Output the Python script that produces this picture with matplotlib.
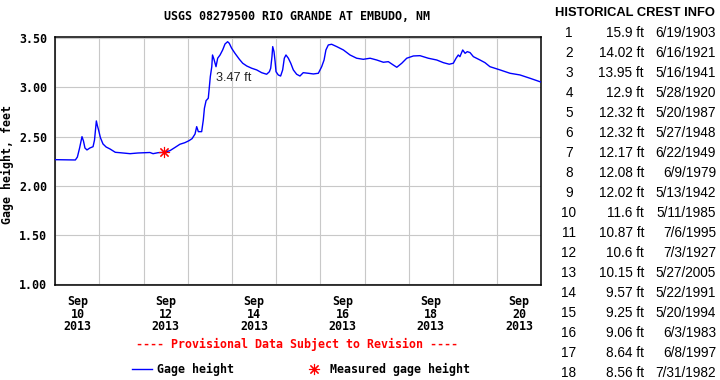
import numpy as np
import matplotlib
matplotlib.use("Agg")
import matplotlib.pyplot as plt
import matplotlib.dates as mdates
from matplotlib.font_manager import FontProperties

START = np.datetime64("2013-09-10T00:00")
END = np.datetime64("2013-09-21T00:00")

# gage height trace, hours after 2013-09-10 00:00
hours = [
    0.0, 10.9, 12.0, 13.2, 14.5, 15.3, 16.1, 17.2, 18.8, 20.5, 21.3, 22.3, 22.9, 23.5,
    24.5, 25.9, 27.6, 29.7, 32.6, 35.1, 40.6, 44.9, 51.4, 53.1, 55.8, 59.3, 62.3, 65.0,
    67.7, 70.4, 72.6, 74.3, 75.9, 76.8, 77.7, 79.5, 80.4, 81.0, 81.9, 83.1, 83.7, 84.2,
    85.0, 85.4, 86.2, 87.3, 88.2, 89.5, 90.9, 92.2, 93.6, 94.5, 95.8, 97.6, 100.0, 101.8,
    104.0, 106.7, 109.4, 112.1, 114.8, 116.3, 117.0, 117.7, 118.1, 118.8, 119.4, 119.9,
    121.1, 122.4, 123.5, 124.4, 125.3, 126.6, 127.9, 129.3, 131.1, 132.9, 134.7, 137.4,
    140.2, 142.9, 144.7, 146.0, 147.0, 148.3, 150.1, 152.9, 156.5, 160.1, 163.7, 167.3,
    171.0, 174.6, 178.2, 180.9, 183.6, 185.5, 188.2, 190.9, 194.5, 198.1, 202.6, 207.2,
    210.8, 214.0, 216.2, 217.7, 218.9, 219.8, 221.3, 222.6, 223.8, 225.3, 227.1, 230.7,
    233.4, 236.1, 241.6, 247.0, 252.4, 257.9, 263.3, 264.0,
]
gage_ft = [
    2.265, 2.262, 2.292, 2.384, 2.499, 2.455, 2.384, 2.364, 2.384, 2.397, 2.465, 2.659, 2.608, 2.567,
    2.489, 2.425, 2.394, 2.374, 2.340, 2.336, 2.326, 2.333, 2.338, 2.326, 2.336, 2.340, 2.357, 2.389,
    2.422, 2.438, 2.458, 2.479, 2.526, 2.601, 2.550, 2.550, 2.669, 2.788, 2.865, 2.890, 3.008, 3.109,
    3.211, 3.330, 3.286, 3.211, 3.297, 3.330, 3.381, 3.442, 3.465, 3.449, 3.398, 3.347, 3.286, 3.246,
    3.218, 3.195, 3.178, 3.150, 3.134, 3.160, 3.195, 3.313, 3.415, 3.364, 3.262, 3.160,
    3.127, 3.116, 3.178, 3.297, 3.330, 3.297, 3.246, 3.178, 3.134, 3.116, 3.150, 3.144,
    3.137, 3.144, 3.211, 3.279, 3.381, 3.432, 3.439, 3.415, 3.381, 3.330, 3.297, 3.286,
    3.297, 3.279, 3.256, 3.262, 3.228, 3.205, 3.246, 3.297, 3.320, 3.323, 3.297, 3.279,
    3.252, 3.236, 3.246, 3.297, 3.330, 3.313, 3.381, 3.347, 3.364, 3.354, 3.313, 3.279,
    3.252, 3.211, 3.178, 3.144, 3.127, 3.093, 3.058, 3.055,
]

measured_hours = [59.3]
measured_ft = [2.34]

peak_label = "3.47 ft"
peak_label_at = (87.3, 3.10)

label_days = ["2013-09-10", "2013-09-12", "2013-09-14", "2013-09-16", "2013-09-18", "2013-09-20"]
y_ticks = [1.0, 1.5, 2.0, 2.5, 3.0, 3.5]

crest_rank = list(range(1, 19))
crest_ft = ["15.9", "14.02", "13.95", "12.9", "12.32", "12.32", "12.17", "12.08", "12.02",
            "11.6", "10.87", "10.6", "10.15", "9.57", "9.25", "9.06", "8.64", "8.56"]
crest_date = ["6/19/1903", "6/16/1921", "5/16/1941", "5/28/1920", "5/20/1987", "5/27/1948",
              "6/22/1949", "6/9/1979", "5/13/1942", "5/11/1985", "7/6/1995", "7/3/1927",
              "5/27/2005", "5/22/1991", "5/20/1994", "6/3/1983", "6/8/1997", "7/31/1982"]

mono = FontProperties(family="DejaVu Sans Mono", weight="bold", size=8.4)
sans = FontProperties(family="Liberation Sans", size=9.8)
sans_b = FontProperties(family="Liberation Sans", weight="bold", size=9.3)

W, H = 720, 380
fig = plt.figure(figsize=(W / 100, H / 100), dpi=100)
ax = fig.add_axes([55.3 / W, 1 - 285.3 / H, (541.3 - 55.3) / W, (285.3 - 36.7) / H])

t = START + (np.array(hours) * 60).astype("timedelta64[m]")
tm = START + (np.array(measured_hours) * 60).astype("timedelta64[m]")

ax.plot(t, gage_ft, color="#0000ff", lw=1.0, label="Gage height", zorder=3)
ax.plot(tm, measured_ft, ls="none", marker=(8, 2, 0), ms=8, mew=0.8, color="#ff0000",
        label="Measured gage height", zorder=4)
ax.text(START + np.timedelta64(int(peak_label_at[0] * 60), "m"), peak_label_at[1], peak_label,
        ha="left", va="center", fontproperties=sans, color="#222222", fontsize=9.2)

ax.set_xlim(START, END)
ax.set_ylim(0.987, 3.516)

ax.set_yticks(y_ticks)
ax.set_yticklabels([f"{v:.2f}" for v in y_ticks], fontproperties=mono)
major = [np.datetime64(d + "T12:00") for d in label_days]
ax.set_xticks(major)
ax.set_xticklabels([f"Sep\n{d[-2:]}\n{d[:4]}" for d in label_days], fontproperties=mono,
                   linespacing=0.95)
ax.xaxis.set_minor_locator(mdates.DayLocator())
ax.tick_params(axis="both", which="both", length=0)
ax.tick_params(axis="y", pad=5.8)
ax.tick_params(axis="x", pad=7)

ax.grid(True, axis="y", which="major", color="#c8c8c8", lw=0.8)
ax.grid(True, axis="x", which="minor", color="#c8c8c8", lw=0.8)
ax.grid(False, axis="x", which="major")
ax.set_axisbelow(True)
for s in ax.spines.values():
    s.set_linewidth(1.1)

fig.text(297.5 / W, 1 - 16.7 / H, "USGS 08279500 RIO GRANDE AT EMBUDO, NM",
         ha="center", va="center", fontproperties=mono)
fig.text(7 / W, 1 - 165 / H, "Gage height, feet", rotation=90,
         ha="center", va="center", fontproperties=mono)
fig.text(297.5 / W, 1 - 344 / H, "---- Provisional Data Subject to Revision ----",
         ha="center", va="center", fontproperties=mono, color="#ff0000")

handles, labels = ax.get_legend_handles_labels()
fig.legend(handles, labels, loc="center", bbox_to_anchor=(301 / W, 1 - 369.3 / H), ncol=2,
           frameon=False, prop=mono, handlelength=1.7, handletextpad=0.5, columnspacing=6.0)

# historical crest table
fig.text(635 / W, 1 - 12.5 / H, "HISTORICAL CREST INFO", ha="center", va="center",
         fontproperties=sans_b)
for i, (r, f, d) in enumerate(zip(crest_rank, crest_ft, crest_date)):
    y = 1 - (32.7 + 20 * i) / H
    fig.text(569 / W, y, str(r), ha="center", va="center", fontproperties=sans)
    fig.text(644 / W, y, f + " ft", ha="right", va="center", fontproperties=sans)
    fig.text(716 / W, y, d, ha="right", va="center", fontproperties=sans)

fig.savefig("out.png", dpi=100)
